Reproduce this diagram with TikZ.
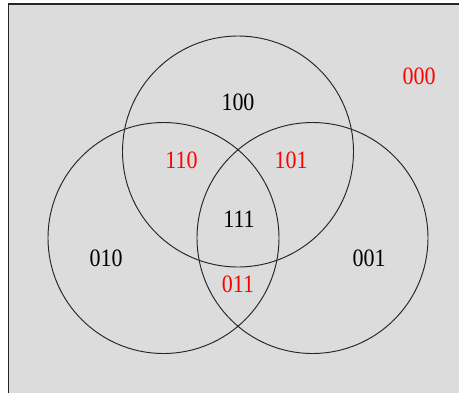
\documentclass[tikz,border=0pt]{standalone}
\usepackage{fontspec}
\setmainfont{Liberation Serif}
\newfontfamily\lblfont[FakeStretch=0.88]{Liberation Serif}
\usepackage{xcolor}
\definecolor{bggray}{RGB}{220,220,220}
\definecolor{setred}{RGB}{255,0,0}

\begin{document}
\begin{tikzpicture}[x=1pt,y=-1pt,
    ring/.style={draw=black!85,line width=0.95pt},
    lbl/.style={font=\lblfont\fontsize{25}{28}\selectfont,inner sep=0pt},
    odd/.style={lbl,text=setred}]
  \useasboundingbox (0,0) rectangle (459,392);
  \fill[bggray] (8.5,4) rectangle (460,393);
  \draw[line width=1.1pt,black!85] (8.5,393) -- (8.5,4) -- (460,4);
  % the three sets
  \coordinate (top) at (238,151.5);
  \coordinate (left) at (163.5,238);
  \coordinate (right) at (312.5,238);
  \foreach \c in {top,left,right} \draw[ring] (\c) circle (115.5);
  % regions
  \node[lbl] (n100) at (238,102) {100};
  \node[odd] (n110) at (181.5,160) {110};
  \node[odd] (n101) at (291,160) {101};
  \node[lbl] (n111) at (239,219) {111};
  \node[lbl] (n010) at (106,258) {010};
  \node[lbl] (n001) at (369,258) {001};
  \node[odd] (n011) at (238,284.5) {011};
  \node[odd] (n000) at (419,76.5) {000};
\end{tikzpicture}
\end{document}
